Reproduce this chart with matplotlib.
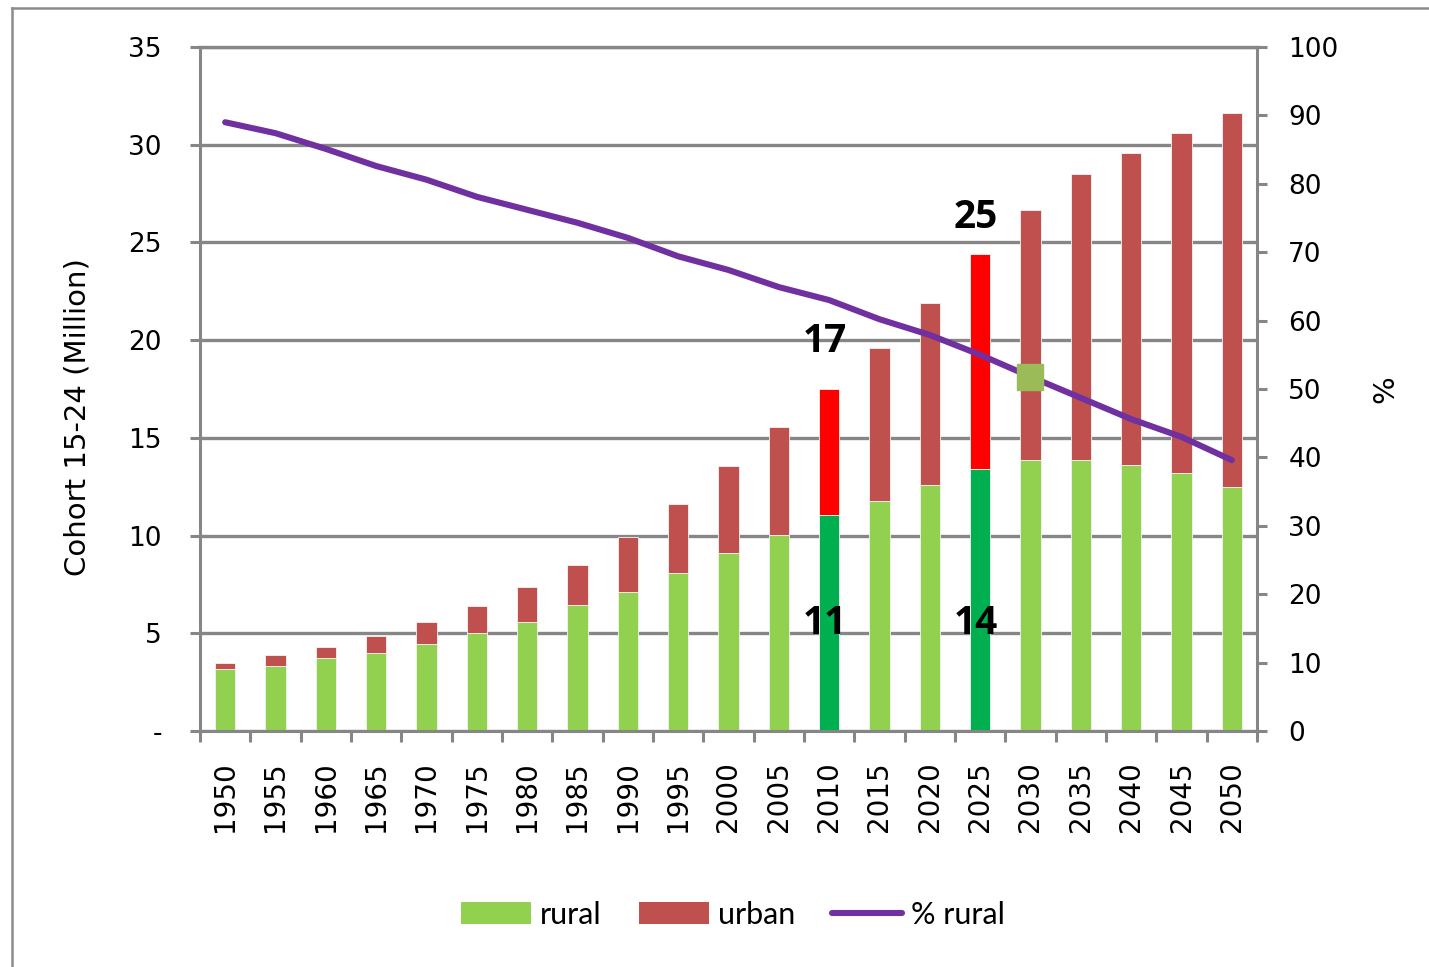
import numpy as np
import matplotlib
matplotlib.use("Agg")
import matplotlib.pyplot as plt
from matplotlib.patches import Patch
from matplotlib.lines import Line2D
from matplotlib.ticker import FixedLocator

# ---------------- data ----------------
years = ["1950", "1955", "1960", "1965", "1970", "1975", "1980", "1985", "1990", "1995",
         "2000", "2005", "2010", "2015", "2020", "2025", "2030", "2035", "2040", "2045", "2050"]
rural = [3.17, 3.33, 3.74, 4.0, 4.45, 5.0, 5.58, 6.45, 7.11, 8.09,
         9.1, 10.03, 11.05, 11.77, 12.59, 13.4, 13.87, 13.87, 13.6, 13.2, 12.5]
total = [3.48, 3.89, 4.3, 4.86, 5.58, 6.4, 7.37, 8.5, 9.93, 11.6,
         13.56, 15.56, 17.5, 19.6, 21.9, 24.4, 26.66, 28.5, 29.6, 30.6, 31.6]
pct_rural = [89.0, 87.4, 85.1, 82.6, 80.6, 78.1, 76.2, 74.3, 72.1, 69.4,
             67.4, 64.9, 63.0, 60.2, 57.9, 55.0, 51.8, 48.7, 45.6, 43.0, 39.6]
highlight_years = ["2010", "2025"]
total_labels = ["17", "25"]
rural_labels = ["11", "14"]
marker_year = "2030"
left_ticks = [0, 5, 10, 15, 20, 25, 30, 35]
left_ticklabels = ["-", "5", "10", "15", "20", "25", "30", "35"]
right_ticks = [0, 10, 20, 30, 40, 50, 60, 70, 80, 90, 100]

urban = [t - r for t, r in zip(total, rural)]

# ---------------- style ----------------
C_RURAL = "#92D050"
C_URBAN = "#C0504D"
C_RURAL_HI = "#00B050"
C_URBAN_HI = "#FF0000"
C_LINE = "#7030A0"
C_MARK = "#9BBB59"
GREY = "#868686"

W, H = 1429, 967
fig = plt.figure(figsize=(W / 100, H / 100), dpi=100)
ax = fig.add_axes([200 / W, 1 - 731 / H, (1257 - 200) / W, (731 - 47) / H])

x = np.arange(len(years))
rc = [C_RURAL_HI if y in highlight_years else C_RURAL for y in years]
uc = [C_URBAN_HI if y in highlight_years else C_URBAN for y in years]

ax.bar(x, rural, width=0.4, color=rc, edgecolor="#f4f4f4", linewidth=0.6, zorder=2)
ax.bar(x, urban, bottom=rural, width=0.4, color=uc, edgecolor="#f4f4f4", linewidth=0.6, zorder=2)

ax.set_xlim(-0.5, len(years) - 0.5)
ax.set_ylim(0, 35)
ax.set_yticks(left_ticks)
ax.set_yticklabels(left_ticklabels)
ax.yaxis.grid(True, color=GREY, linewidth=2.4)
ax.set_axisbelow(True)

ax.set_xticks(x)
ax.set_xticklabels(years, rotation=90, fontsize=20, family="DejaVu Sans")
ax.xaxis.set_minor_locator(FixedLocator(np.arange(-0.5, len(years), 1.0)))
ax.tick_params(axis="x", which="major", length=0, pad=22)
ax.tick_params(axis="x", which="minor", length=8, width=2.2, color=GREY, direction="out")
ax.tick_params(axis="y", length=7.5, width=2.2, color=GREY, labelsize=19, pad=20)

for s in ["left", "bottom", "right", "top"]:
    ax.spines[s].set_color(GREY)
    ax.spines[s].set_linewidth(2.2)
ax.spines["top"].set_linewidth(2.4)

ax.set_ylabel("Cohort 15-24 (Million)", fontsize=21)
ax.yaxis.set_label_coords(-0.103, 0.459)

# annotations
ann_font = dict(family="Open Sans", fontsize=28, fontweight="bold", color="black", ha="center")
top_offsets = [20, 12]
for k, y in enumerate(highlight_years):
    i = years.index(y)
    ax.annotate(total_labels[k], xy=(i - 0.08, total[i]), xytext=(0, top_offsets[k]),
                textcoords="offset points", va="bottom", zorder=5, **ann_font)
    ax.text(i - 0.08, 5.5, rural_labels[k], va="center", zorder=5, **ann_font)

# secondary axis
ax2 = ax.twinx()
ax2.set_ylim(0, 100)
ax2.set_yticks(right_ticks)
ax2.tick_params(axis="y", length=7.5, width=2.2, color=GREY, labelsize=19, pad=15)
for s in ["left", "bottom", "right", "top"]:
    ax2.spines[s].set_visible(False)
ax2.plot(x, pct_rural, color=C_LINE, linewidth=4.4, solid_capstyle="round",
         solid_joinstyle="round", zorder=3)
mi = years.index(marker_year)
ax2.plot([x[mi]], [pct_rural[mi]], marker="s", markersize=19, color=C_MARK,
         markeredgecolor=C_MARK, linestyle="none", zorder=4)
ax2.set_ylabel("%", fontsize=21, labelpad=24)

# legend
handles = [Patch(facecolor=C_RURAL, edgecolor="none"),
           Patch(facecolor=C_URBAN, edgecolor="none"),
           Line2D([0], [0], color=C_LINE, lw=4.4, solid_capstyle="round")]
fig.legend(handles, ["rural", "urban", "% rural"], loc="center",
           bbox_to_anchor=(0.513, 0.054), ncol=3, frameon=False,
           prop=dict(family="Lato", size=22), handlelength=2.3, handleheight=0.75,
           handletextpad=0.3, columnspacing=1.2)

# outer frame
fig.add_artist(Line2D([12 / W, 12 / W], [0, 1 - 8 / H], transform=fig.transFigure,
                      color="#8c8c8c", lw=1.8))
fig.add_artist(Line2D([12 / W, 1], [1 - 8 / H, 1 - 8 / H], transform=fig.transFigure,
                      color="#8c8c8c", lw=1.8))

fig.savefig("out.png", dpi=100, facecolor="white")
